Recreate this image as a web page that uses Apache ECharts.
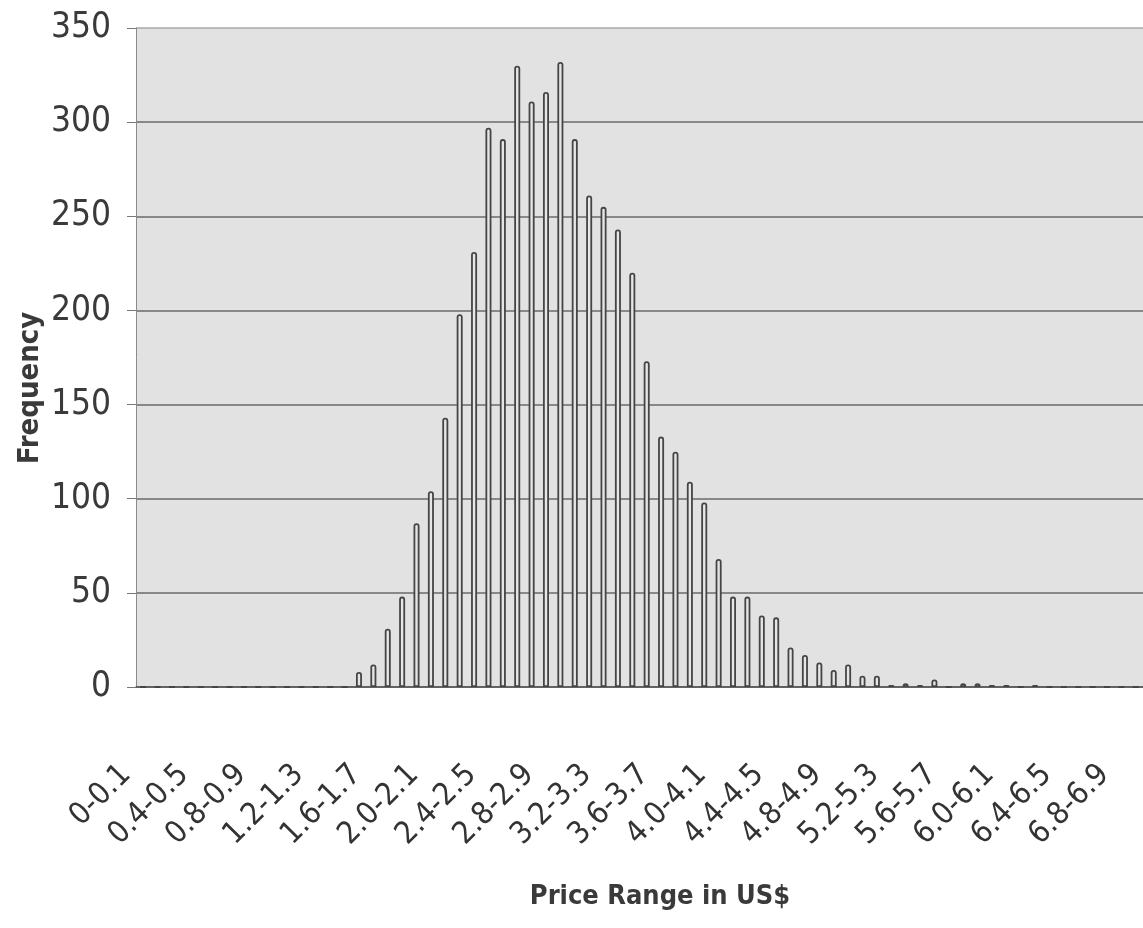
<!DOCTYPE html>
<html>
<head>
<meta charset="utf-8">
<title>Price Range Frequency</title>
<script src="https://cdn.jsdelivr.net/npm/echarts@6/dist/echarts.min.js"></script>
<style>
  html, body { margin: 0; padding: 0; background: #ffffff; }
  #chart { width: 1143px; height: 928px; }
</style>
</head>
<body>
<div id="chart"></div>
<script>
// Price bins in US$ (0.1 wide)
const categories = [
  '0-0.1', '0.1-0.2', '0.2-0.3', '0.3-0.4', '0.4-0.5', '0.5-0.6', '0.6-0.7', '0.7-0.8', '0.8-0.9', '0.9-1.0',
  '1.0-1.1', '1.1-1.2', '1.2-1.3', '1.3-1.4', '1.4-1.5', '1.5-1.6', '1.6-1.7', '1.7-1.8', '1.8-1.9', '1.9-2.0',
  '2.0-2.1', '2.1-2.2', '2.2-2.3', '2.3-2.4', '2.4-2.5', '2.5-2.6', '2.6-2.7', '2.7-2.8', '2.8-2.9', '2.9-3.0',
  '3.0-3.1', '3.1-3.2', '3.2-3.3', '3.3-3.4', '3.4-3.5', '3.5-3.6', '3.6-3.7', '3.7-3.8', '3.8-3.9', '3.9-4.0',
  '4.0-4.1', '4.1-4.2', '4.2-4.3', '4.3-4.4', '4.4-4.5', '4.5-4.6', '4.6-4.7', '4.7-4.8', '4.8-4.9', '4.9-5.0',
  '5.0-5.1', '5.1-5.2', '5.2-5.3', '5.3-5.4', '5.4-5.5', '5.5-5.6', '5.6-5.7', '5.7-5.8', '5.8-5.9', '5.9-6.0',
  '6.0-6.1', '6.1-6.2', '6.2-6.3', '6.3-6.4', '6.4-6.5', '6.5-6.6', '6.6-6.7', '6.7-6.8', '6.8-6.9', '6.9-7.0'
];

// Number of observations in each bin
const frequency = [
  0, 0, 0, 0, 0, 0, 0, 0, 0, 0,
  0, 0, 0, 0, 0, 8, 12, 31, 48, 87,
  104, 143, 198, 231, 297, 291, 330, 311, 316, 332,
  291, 261, 255, 243, 220, 173, 133, 125, 109, 98,
  68, 48, 48, 38, 37, 21, 17, 13, 9, 12,
  6, 6, 1, 2, 1, 4, 0, 2, 2, 1,
  1, 0, 1, 0, 0, 0, 0, 0, 0, 0
];

// Frequency axis ticks
const yTicks = [0, 50, 100, 150, 200, 250, 300, 350];

const xTitle = 'Price Range in US$';
const yTitle = 'Frequency';

const FONT = '"DejaVu Sans Condensed", "Liberation Sans Narrow", sans-serif';

const chart = echarts.init(document.getElementById('chart'), null, { renderer: 'canvas' });

// Split line colours: the top edge of the plot is lighter than inner grid lines
const splitColors = yTicks.map((v, i) => (i === yTicks.length - 1 ? '#a8a8a8' : '#6a6a6a'));

chart.setOption({
  backgroundColor: '#ffffff',
  animation: false,
  grid: {
    left: 136,
    right: 0,
    top: 28,
    bottom: 241,
    show: true,
    backgroundColor: '#e2e2e2',
    borderWidth: 0
  },
  xAxis: {
    type: 'category',
    data: categories,
    boundaryGap: true,
    axisLine: { show: true, lineStyle: { color: '#555555', width: 1.5 } },
    axisTick: { show: false },
    axisLabel: {
      interval: 3,
      rotate: 45,
      margin: 66,
      padding: [0, 24, 0, 0],
      fontFamily: FONT,
      fontSize: 31,
      color: '#333333'
    },
    splitLine: { show: false }
  },
  yAxis: {
    type: 'value',
    min: yTicks[0],
    max: yTicks[yTicks.length - 1],
    interval: yTicks[1] - yTicks[0],
    axisLine: { show: true, lineStyle: { color: '#8a8a8a', width: 1 } },
    axisTick: { show: true, length: 9, lineStyle: { color: '#777777', width: 1 } },
    axisLabel: {
      margin: 25,
      fontFamily: FONT,
      fontSize: 35,
      color: '#3a3a3a'
    },
    splitLine: { show: true, lineStyle: { color: splitColors, width: 1.5 } }
  },
  series: [{
    type: 'bar',
    data: frequency,
    barWidth: 6,
    itemStyle: {
      color: '#e6e6e6',
      borderColor: '#454545',
      borderWidth: 1.8,
      borderRadius: [2, 2, 0, 0]
    }
  }],
  graphic: [
    {
      type: 'text',
      x: 660,
      y: 897,
      style: {
        text: xTitle,
        x: 0,
        y: 0,
        align: 'center',
        verticalAlign: 'middle',
        font: 'bold 27px ' + FONT,
        fill: '#3a3a3a'
      }
    },
    {
      type: 'text',
      x: 30,
      y: 388,
      rotation: Math.PI / 2,
      style: {
        text: yTitle,
        x: 0,
        y: 0,
        align: 'center',
        verticalAlign: 'middle',
        font: 'bold 29px ' + FONT,
        fill: '#3a3a3a'
      }
    }
  ]
});
</script>
</body>
</html>
